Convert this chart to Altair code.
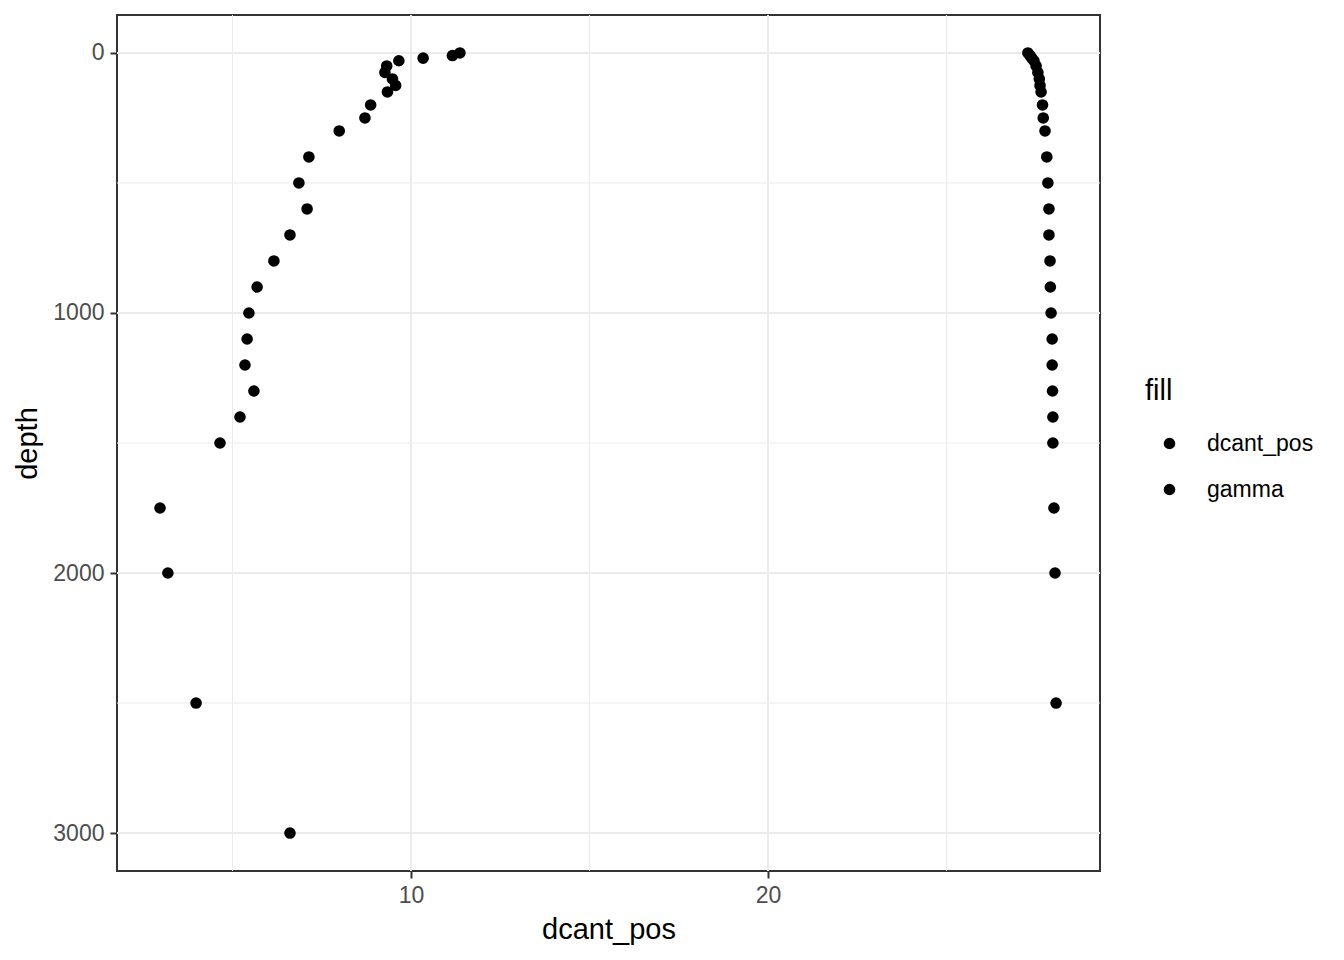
import altair as alt
import pandas as pd

depth_dcant = [0, 10, 20, 30, 50, 75, 100, 125, 150, 200, 250, 300, 400, 500, 600,
               700, 800, 900, 1000, 1100, 1200, 1300, 1400, 1500, 1750, 2000, 2500, 3000]
dcant_pos = [11.37, 11.16, 10.34, 9.66, 9.32, 9.27, 9.48, 9.57, 9.34, 8.87, 8.71, 7.99, 7.14, 6.86, 7.09,
             6.61, 6.16, 5.69, 5.46, 5.41, 5.35, 5.60, 5.21, 4.65, 2.97, 3.19, 3.98, 6.61]

depth_gamma = [0, 10, 20, 30, 50, 75, 100, 125, 150, 200, 250, 300, 400, 500, 600,
               700, 800, 900, 1000, 1100, 1200, 1300, 1400, 1500, 1750, 2000, 2500]
gamma = [27.28, 27.34, 27.39, 27.45, 27.51, 27.56, 27.60, 27.62, 27.65, 27.69, 27.71, 27.76, 27.81, 27.84, 27.87,
         27.87, 27.90, 27.91, 27.93, 27.96, 27.96, 27.97, 27.98, 27.98, 28.01, 28.04, 28.07]

x_major = [10, 20]
x_minor = [5, 15, 25]
y_major = [0, 1000, 2000, 3000]
y_minor = [500, 1500, 2500]

df = pd.concat([
    pd.DataFrame({"depth": depth_dcant, "value": dcant_pos, "fill": "dcant_pos"}),
    pd.DataFrame({"depth": depth_gamma, "value": gamma, "fill": "gamma"}),
])

x_scale = alt.Scale(domain=[1.765, 29.3], nice=False, zero=False)
y_scale = alt.Scale(domain=[-146, 3146], nice=False, zero=False, reverse=True)

grid_col = "#EBEBEB"

axis_common = dict(
    grid=False, domain=False, tickColor="#333333", tickWidth=2, tickSize=7,
    labelColor="#4D4D4D", labelFontSize=23, labelFont="Liberation Sans", labelPadding=6,
    titleColor="black", titleFontSize=29, titleFont="Liberation Sans", titleFontWeight="normal",
)
x_axis = alt.Axis(values=x_major, title="dcant_pos", titlePadding=8, **axis_common)
y_axis = alt.Axis(values=y_major, title="depth", titlePadding=10, format="d", **axis_common)

gx_minor = alt.Chart(pd.DataFrame({"g": x_minor})).mark_rule(color=grid_col, strokeWidth=1).encode(
    x=alt.X("g:Q", scale=x_scale, axis=x_axis, title="dcant_pos"))
gx_major = alt.Chart(pd.DataFrame({"g": x_major})).mark_rule(color=grid_col, strokeWidth=2).encode(
    x=alt.X("g:Q", scale=x_scale, axis=x_axis, title="dcant_pos"))
gy_minor = alt.Chart(pd.DataFrame({"g": y_minor})).mark_rule(color=grid_col, strokeWidth=1).encode(
    y=alt.Y("g:Q", scale=y_scale, axis=y_axis, title="depth"))
gy_major = alt.Chart(pd.DataFrame({"g": y_major})).mark_rule(color=grid_col, strokeWidth=2).encode(
    y=alt.Y("g:Q", scale=y_scale, axis=y_axis, title="depth"))

points = alt.Chart(df).mark_circle(size=135, opacity=1).encode(
    x=alt.X("value:Q", scale=x_scale, axis=x_axis, title="dcant_pos"),
    y=alt.Y("depth:Q", scale=y_scale, axis=y_axis, title="depth"),
    color=alt.Color("fill:N",
                    scale=alt.Scale(domain=["dcant_pos", "gamma"], range=["black", "black"]),
                    legend=alt.Legend(title="fill", orient="none", legendX=1028, legendY=362,
                                      titleFontSize=29, titleFont="Liberation Sans",
                                      titleFontWeight="normal", titleColor="black", titlePadding=26,
                                      labelFontSize=23, labelFont="Liberation Sans", labelColor="black",
                                      symbolType="circle", symbolSize=135, symbolStrokeWidth=0,
                                      symbolOffset=13, labelOffset=26, rowPadding=22, padding=0)),
)

chart = alt.layer(gx_minor, gx_major, gy_minor, gy_major, points).properties(
    width=983, height=856,
    autosize=alt.AutoSizeParams(type="none"),
    padding={"left": 109, "top": 7, "right": 236, "bottom": 81},
).configure(background="white").configure_view(stroke="#333333", strokeWidth=2)

chart.save("out.html", embed_options={"renderer": "svg", "actions": False})
